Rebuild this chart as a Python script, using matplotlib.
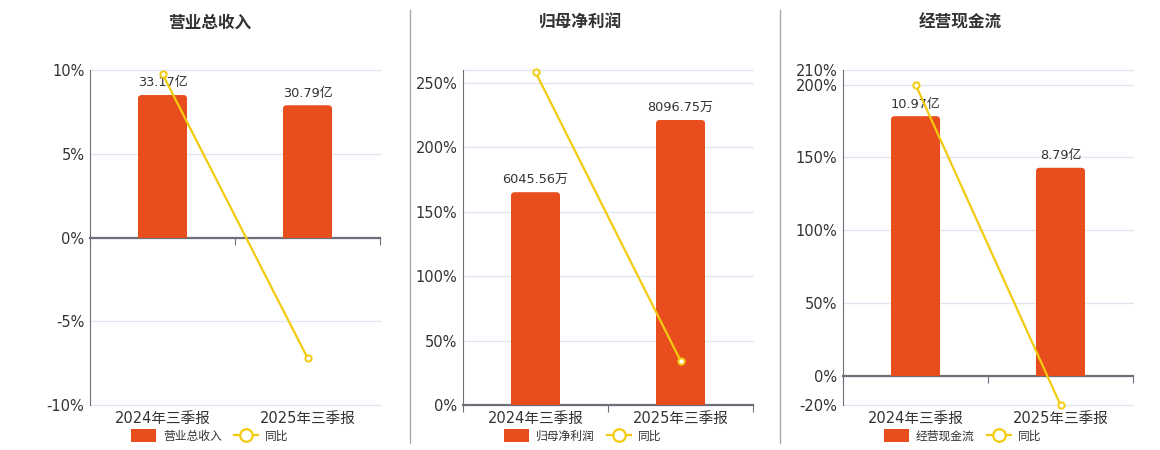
import numpy as np
import matplotlib
matplotlib.use("Agg")
import matplotlib.pyplot as plt
import matplotlib.transforms as mtransforms
from matplotlib.lines import Line2D
from matplotlib.patches import Patch, FancyBboxPatch, Rectangle

plt.rcParams['font.family'] = ['DejaVu Sans', 'Noto Sans CJK SC']

# 数据
categories = ['2024年三季报', '2025年三季报']
titles = ['营业总收入', '归母净利润', '经营现金流']

bar_values = [[33.17, 30.79], [6045.56, 8096.75], [10.97, 8.79]]
bar_labels = [['33.17亿', '30.79亿'], ['6045.56万', '8096.75万'], ['10.97亿', '8.79亿']]
yoy = [[9.76, -7.19], [258.3, 34.4], [200.0, -20.0]]

pct_limits = [(-10, 10), (0, 260), (-20, 210)]
pct_ticks = [[-10, -5, 0, 5, 10], [0, 50, 100, 150, 200, 250], [-20, 0, 50, 100, 150, 200, 210]]
bar_limits = [(-39.0, 39.0), (0, 9517), (-1.23, 12.92)]

bar_color = '#e84d1d'
line_color = '#f2cb0f'
grid_color = '#e0e6f1'
axis_color = '#6e7079'
text_color = '#333333'

W, H = 1160, 450
fig = plt.figure(figsize=(W / 100, H / 100), dpi=100)

lefts = [90, 463, 843]
title_x = [210, 580, 960]
ax_w = 290
top, bottom = 70, 405
bar_w = 0.34
radius_px = 4

for k in range(3):
    rect = [lefts[k] / W, (H - bottom) / H, ax_w / W, (bottom - top) / H]
    ax = fig.add_axes(rect)
    x = np.arange(len(categories))

    ax.set_xlim(-0.5, 1.5)
    ax.set_ylim(*pct_limits[k])
    ax.set_yticks(pct_ticks[k])
    ax.set_yticklabels([f'{t}%' for t in pct_ticks[k]])
    ax.tick_params(axis='y', length=0, labelsize=10.5, labelcolor=text_color, pad=4)
    for t in sorted(set(pct_ticks[k] + list(pct_limits[k]))):
        ax.axhline(t, color=grid_color, lw=1, zorder=0, clip_on=False)
    for s in ['top', 'right']:
        ax.spines[s].set_visible(False)
    ax.spines['left'].set_color(axis_color)
    ax.spines['bottom'].set_position(('data', 0))
    ax.spines['bottom'].set_color(axis_color)
    ax.spines['bottom'].set_linewidth(1.6)
    ax.set_xticks([-0.5, 0.5, 1.5])
    ax.set_xticklabels([])
    ax.tick_params(axis='x', length=5, color=axis_color, direction='out')

    trans = mtransforms.blended_transform_factory(ax.transData, ax.transAxes)
    for i, c in enumerate(categories):
        ax.text(x[i], -0.018, c, transform=trans, ha='center', va='top',
                fontsize=10.5, color=text_color)

    # 柱状图 (圆角顶部)
    axb = ax.twinx()
    axb.set_ylim(*bar_limits[k])
    axb.axis('off')
    bars = axb.bar(x, bar_values[k], width=bar_w, color=bar_color, zorder=2)
    xupp = 2.0 / ax_w
    yupp = (bar_limits[k][1] - bar_limits[k][0]) / (bottom - top)
    r = radius_px * xupp
    for b in bars:
        bx, bw, bh = b.get_x(), b.get_width(), b.get_height()
        ext = radius_px * yupp
        fb = FancyBboxPatch((bx, -ext), bw, bh + ext,
                            boxstyle=f'round,pad=0,rounding_size={r}',
                            mutation_aspect=yupp / xupp,
                            facecolor=bar_color, edgecolor='none', zorder=2)
        axb.add_patch(fb)
        clip = Rectangle((bx, 0), bw, bh + ext, transform=axb.transData)
        fb.set_clip_path(clip)
        b.set_visible(False)
    for i, v in enumerate(bar_values[k]):
        axb.annotate(bar_labels[k][i], (x[i], v), xytext=(0, 4), textcoords='offset points',
                     ha='center', va='bottom', fontsize=9.3, color=text_color)

    # 同比折线
    axl = ax.twinx()
    axl.set_ylim(*pct_limits[k])
    axl.axis('off')
    axl.plot(x, yoy[k], color=line_color, lw=1.6, marker='o', markersize=4.5,
             markerfacecolor='white', markeredgecolor=line_color, markeredgewidth=1.4,
             clip_on=False)

    fig.text(title_x[k] / W, 1 - 23 / H, titles[k], ha='center', va='center',
             fontsize=12, fontweight='bold', color=text_color)

    handles = [Patch(facecolor=bar_color, edgecolor='none', joinstyle='round'),
               Line2D([], [], color=line_color, lw=1.6, marker='o', markersize=9,
                      markerfacecolor='white', markeredgecolor=line_color, markeredgewidth=1.6)]
    fig.legend(handles, [titles[k], '同比'], loc='center', ncol=2, frameon=False,
               bbox_to_anchor=((lefts[k] + ax_w / 2 - 25) / W, 1 - 436 / H),
               fontsize=8.5, handlelength=2.1, handleheight=1.3, columnspacing=1.0,
               handletextpad=0.6, labelcolor=text_color, borderpad=0)

# 分隔线
for xs in [410, 780]:
    fig.add_artist(Line2D([xs / W, xs / W], [1 - 10 / H, 1 - 443 / H], color='#aaaaaa', lw=1))

fig.savefig('out.png', dpi=100, facecolor='white')
